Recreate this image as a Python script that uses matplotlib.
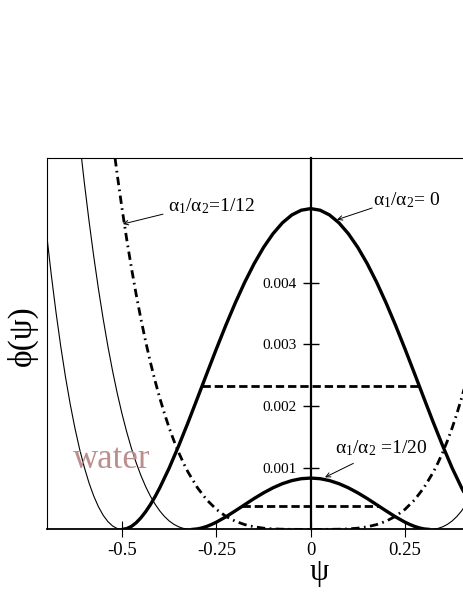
import matplotlib
matplotlib.use('Agg')
import matplotlib.pyplot as plt

plt.rcParams['font.family'] = ['Liberation Serif', 'DejaVu Serif']
plt.rcParams['axes.unicode_minus'] = False
plt.rcParams['mathtext.fontset'] = 'custom'
plt.rcParams['mathtext.rm'] = 'Liberation Serif'
plt.rcParams['mathtext.it'] = 'Liberation Serif'
plt.rcParams['mathtext.bf'] = 'Liberation Serif:bold'

# ---------------- data ----------------
# alpha1/alpha2 = 0 : thick part and thin outer wing
psi_A_thick = [-0.5, -0.4875, -0.475, -0.4625, -0.45, -0.4375, -0.425, -0.4125, -0.4, -0.375,
               -0.35, -0.325, -0.3, -0.275, -0.25, -0.225, -0.2, -0.175, -0.15, -0.125,
               -0.1, -0.075, -0.05, -0.025, 0.0, 0.025, 0.05, 0.075, 0.1, 0.125,
               0.15, 0.175, 0.2, 0.225, 0.25, 0.275, 0.3, 0.325, 0.35, 0.375,
               0.4, 0.4125, 0.425, 0.4375, 0.45]
phi_A_thick = [0.0, 0.0000127, 0.000049, 0.000108, 0.000188, 0.000286, 0.000400, 0.000530, 0.000674, 0.000995,
               0.001353, 0.001734, 0.002130, 0.002530, 0.002925, 0.003307, 0.003669, 0.004004, 0.004306, 0.004570,
               0.004792, 0.004969, 0.005097, 0.005174, 0.005200, 0.005174, 0.005097, 0.004969, 0.004792, 0.004570,
               0.004306, 0.004004, 0.003669, 0.003307, 0.002925, 0.002530, 0.002130, 0.001734, 0.001353, 0.000995,
               0.000674, 0.000530, 0.000400, 0.000286, 0.000188]
psi_A_thin = [-0.7, -0.6875, -0.675, -0.6625, -0.65, -0.6375, -0.625, -0.6125, -0.6, -0.5875,
              -0.575, -0.5625, -0.55, -0.5375, -0.525, -0.5125, -0.5]
phi_A_thin = [0.004792, 0.004125, 0.003518, 0.002969, 0.002476, 0.002035, 0.001645, 0.001303, 0.001007, 0.000753,
              0.000541, 0.000367, 0.000229, 0.000126, 0.000055, 0.0000133, 0.0]

# alpha1/alpha2 = 1/20 : thick inner part and thin outer wings
psi_B_thick = [-0.3162, -0.3125, -0.3, -0.2875, -0.275, -0.2625, -0.25, -0.225, -0.2, -0.175,
               -0.15, -0.125, -0.1, -0.075, -0.05, -0.025, 0.0, 0.025, 0.05, 0.075,
               0.1, 0.125, 0.15, 0.175, 0.2, 0.225, 0.25, 0.2625, 0.275, 0.2875,
               0.3, 0.3125, 0.3162]
phi_B_thick = [0.0, 0.0000005, 0.0000083, 0.0000250, 0.0000494, 0.0000804, 0.000117, 0.000203, 0.000300, 0.000400,
               0.000500, 0.000592, 0.000674, 0.000741, 0.000791, 0.000822, 0.000832, 0.000822, 0.000791, 0.000741,
               0.000674, 0.000592, 0.000500, 0.000400, 0.000300, 0.000203, 0.000117, 0.0000804, 0.0000494, 0.0000250,
               0.0000083, 0.0000005, 0.0]
psi_B_thin_left = [-0.625, -0.6125, -0.6, -0.5875, -0.575, -0.5625, -0.55, -0.5375, -0.525, -0.5125,
                   -0.5, -0.4875, -0.475, -0.4625, -0.45, -0.4375, -0.425, -0.4125, -0.4, -0.3875,
                   -0.375, -0.3625, -0.35, -0.3375, -0.325, -0.3162]
phi_B_thin_left = [0.007027, 0.006299, 0.005624, 0.005000, 0.004425, 0.003896, 0.003412, 0.002969, 0.002566, 0.002201,
                   0.001872, 0.001577, 0.001313, 0.001080, 0.000874, 0.000695, 0.000541, 0.000410, 0.000300, 0.000209,
                   0.000137, 0.0000821, 0.0000421, 0.0000161, 0.0000026, 0.0]
psi_B_thin_right = [0.3162, 0.325, 0.3375, 0.35, 0.3625, 0.375, 0.3875, 0.4, 0.4125, 0.425,
                    0.4375, 0.45]
phi_B_thin_right = [0.0, 0.0000026, 0.0000161, 0.0000421, 0.0000821, 0.000137, 0.000209, 0.000300, 0.000410, 0.000541,
                    0.000695, 0.000874]

# alpha1/alpha2 = 1/12 : dash-dot
psi_C = [-0.525, -0.5125, -0.5, -0.4875, -0.475, -0.4625, -0.45, -0.4375, -0.425, -0.4125,
         -0.4, -0.3875, -0.375, -0.3625, -0.35, -0.3375, -0.325, -0.3, -0.275, -0.25,
         -0.225, -0.2, -0.175, -0.15, -0.125, -0.1, -0.075, -0.05, -0.025, 0.0,
         0.025, 0.05, 0.075, 0.1, 0.125, 0.15, 0.175, 0.2, 0.225, 0.25,
         0.275, 0.3, 0.325, 0.3375, 0.35, 0.3625, 0.375, 0.3875, 0.4, 0.4125,
         0.425, 0.4375, 0.45]
phi_C = [0.006321, 0.005740, 0.005200, 0.004699, 0.004235, 0.003807, 0.003412, 0.003048, 0.002714, 0.002409,
         0.002130, 0.001876, 0.001645, 0.001437, 0.001249, 0.001080, 0.000928, 0.000674, 0.000476, 0.000325,
         0.000213, 0.000133, 0.000078, 0.000042, 0.000020, 0.000008, 0.000003, 0.000001, 0.0, 0.0,
         0.0, 0.000001, 0.000003, 0.000008, 0.000020, 0.000042, 0.000078, 0.000133, 0.000213, 0.000325,
         0.000476, 0.000674, 0.000928, 0.001080, 0.001249, 0.001437, 0.001645, 0.001876, 0.002130, 0.002409,
         0.002714, 0.003048, 0.003412]

# dashed horizontal levels
dash_level = [0.00232, 0.00038]
dash_left = [-0.288, -0.182]
dash_right = [0.288, 0.182]

xtick_pos = [-0.5, -0.25, 0.0, 0.25]
xtick_labels = ['-0.5', '-0.25', '0', '0.25']
ytick_pos = [0.001, 0.002, 0.003, 0.004]
ytick_labels = ['0.001', '0.002', '0.003', '0.004']

# ---------------- figure ----------------
fig = plt.figure(figsize=(4.63, 5.99), dpi=100)
ax = fig.add_axes([0.1006, 0.1162, 0.9371, 0.62])
ax.set_xlim(-0.7, 0.45)
ax.set_ylim(0, 0.00602)

thick = 2.4
thin = 0.8
ax.plot(psi_A_thin, phi_A_thin, color='black', lw=thin)
ax.plot(psi_A_thick, phi_A_thick, color='black', lw=thick, solid_capstyle='butt')
ax.plot(psi_B_thin_left, phi_B_thin_left, color='black', lw=thin)
ax.plot(psi_B_thin_right, phi_B_thin_right, color='black', lw=thin)
ax.plot(psi_B_thick, phi_B_thick, color='black', lw=thick, solid_capstyle='butt')
ax.plot(psi_C, phi_C, color='black', lw=2.0, dashes=(3, 1.6, 0.6, 1.6))
ax.hlines(dash_level, dash_left, dash_right, colors='black', lw=2.0,
          linestyles=(0, (3, 1.4)))

# spines
ax.spines['left'].set_position(('data', 0))
ax.spines['left'].set_linewidth(1.6)
ax.spines['bottom'].set_linewidth(1.3)
ax.spines['top'].set_linewidth(0.8)
ax.spines['right'].set_visible(False)
ax.plot([0, 0], [0, 1], transform=ax.transAxes, color='black', lw=0.8, clip_on=False)

ax.set_xticks(xtick_pos)
ax.set_xticklabels(xtick_labels, fontsize=13.5)
ax.set_yticks(ytick_pos)
ax.set_yticklabels(ytick_labels, fontsize=11)
ax.tick_params(axis='x', direction='inout', length=12, width=0.8, pad=3, top=False)
ax.tick_params(axis='y', direction='inout', length=12, width=1.0, pad=4, right=False)
ax.yaxis.set_ticks_position('left')

# axis labels
ax.text(0.0227, -0.115, 'ψ', transform=ax.get_xaxis_transform(), fontsize=22,
        ha='center', va='center')
fig.text(22 / 463, 1 - 336 / 599, 'ϕ(ψ)', rotation=90, fontsize=24,
         ha='center', va='center')

# annotations
arrow_kw = dict(arrowstyle='->', lw=0.7, color='black', shrinkA=0, shrinkB=0,
                mutation_scale=8)
ax.annotate('', xy=(0.0697, 0.00502), xytext=(0.163, 0.00521), arrowprops=arrow_kw)
ax.text(0.165, 0.00526, r'$\alpha_1/\alpha_2$= 0', fontsize=14, ha='left', va='baseline')

ax.annotate('', xy=(-0.4977, 0.00495), xytext=(-0.3915, 0.00511), arrowprops=arrow_kw)
ax.text(-0.378, 0.00516, r'$\alpha_1/\alpha_2$=1/12', fontsize=14, ha='left', va='baseline')

ax.annotate('', xy=(0.0379, 0.000844), xytext=(0.113, 0.00107), arrowprops=arrow_kw)
ax.text(0.0644, 0.00123, r'$\alpha_1/\alpha_2$ =1/20', fontsize=14, ha='left', va='baseline')

ax.text(-0.630, 0.000995, 'water', fontsize=25, color='#bc8f8f', ha='left', va='baseline')

fig.savefig('out.png', dpi=100)
